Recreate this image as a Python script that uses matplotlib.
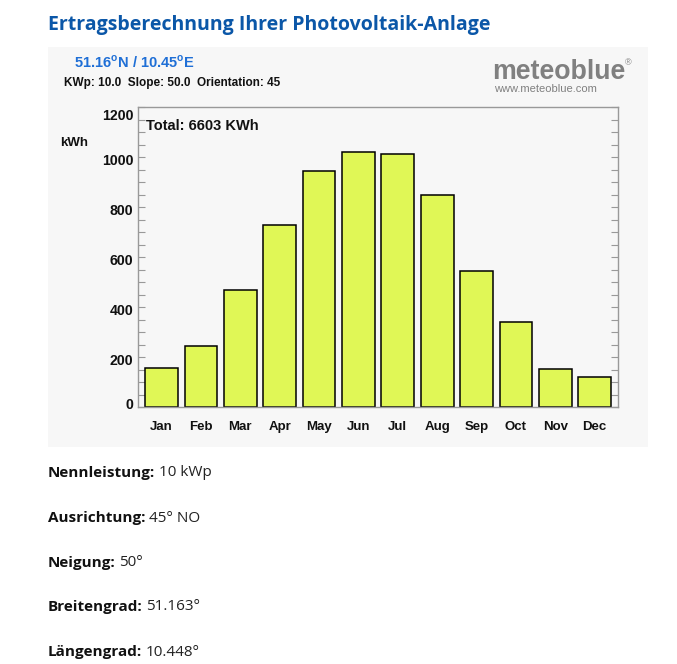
import matplotlib
matplotlib.use("Agg")
import matplotlib.pyplot as plt
from matplotlib.patches import Rectangle
from matplotlib.ticker import MultipleLocator
from matplotlib.transforms import ScaledTranslation

months = ["Jan", "Feb", "Mar", "Apr", "May", "Jun", "Jul", "Aug", "Sep", "Oct", "Nov", "Dec"]
energy_kwh = [156, 244, 468, 728, 945, 1020, 1012, 850, 545, 340, 153, 122]
y_ticks = [0, 200, 400, 600, 800, 1000, 1200]
total_label = "Total: 6603 KWh"
title = "Ertragsberechnung Ihrer Photovoltaik-Anlage"
coords = "51.16$^\\mathregular{o}$N / 10.45$^\\mathregular{o}$E"
params = "KWp: 10.0  Slope: 50.0  Orientation: 45"
info_keys = ["Nennleistung:", "Ausrichtung:", "Neigung:", "Breitengrad:", "Längengrad:"]
info_vals = ["10 kWp", "45° NO", "50°", "51.163°", "10.448°"]

W, H = 677, 664
fig = plt.figure(figsize=(W / 100, H / 100), dpi=100)
fig.patch.set_facecolor("white")

def fx(px):
    return px / W

def fy(py):
    return 1 - py / H

# grey panel
fig.patches.append(Rectangle((fx(48), fy(447)), 600 / W, 400 / H, transform=fig.transFigure,
                             facecolor="#f7f7f7", edgecolor="none", zorder=-5))

ax = fig.add_axes([fx(138.3), fy(407.3), 480 / W, 300 / H])
ax.set_zorder(5)
ax.set_facecolor("#f7f7f7")
x = list(range(len(months)))
ax.bar(x, energy_kwh, width=0.83, color="#e0f756", edgecolor="black", linewidth=1.1, zorder=2)
ax.set_xlim(-0.59, 11.6)
ax.set_ylim(0, 1200)
ax.set_yticks(y_ticks)
ax.yaxis.set_minor_locator(MultipleLocator(50))
ax.set_xticks(x)
ax.set_xticklabels(months)
for s in ax.spines.values():
    s.set_color("#999999")
    s.set_linewidth(1.0)
ax.tick_params(axis="y", which="both", direction="in", left=True, right=True, color="#999999",
               length=5, width=0.8, pad=3.5)
ax.tick_params(axis="x", direction="in", color="#999999", length=5, width=0.8, pad=10)
for lab in ax.get_xticklabels():
    lab.set_fontfamily("Liberation Sans")
    lab.set_fontweight("bold")
    lab.set_fontsize(9.5)
    lab.set_color("#111111")
for lab in ax.get_yticklabels():
    lab.set_fontfamily("Liberation Sans")
    lab.set_fontweight("bold")
    lab.set_fontsize(10.2)
    lab.set_color("#111111")

# ROOT-style label offsets (pixels, downward positive)
for lab, val in zip(ax.get_yticklabels(), y_ticks):
    dy = 2
    if val == y_ticks[-1]:
        dy = 7
    elif val == y_ticks[0]:
        dy = -4
    lab.set_transform(lab.get_transform() + ScaledTranslation(0, -dy / 100, fig.dpi_scale_trans))

ax.text(0.015, 0.962, total_label, transform=ax.transAxes, ha="left", va="top",
        fontfamily="Liberation Sans", fontweight="bold", fontsize=10.5, color="#111111")

fig.text(fx(60), fy(143), "kWh", ha="left", va="center", fontfamily="Liberation Sans",
         fontweight="bold", fontsize=9.5, color="#111111")

# title
fig.text(fx(48), fy(25), title, ha="left", va="center", fontfamily="Open Sans",
         fontweight="bold", fontsize=14, color="#0b57a8")
fig.text(fx(74), fy(62), coords, ha="left", va="center", fontfamily="Liberation Sans",
         fontweight="bold", fontsize=10.5, color="#1f6fd6")
fig.text(fx(64), fy(83), params, ha="left", va="center", fontfamily="Liberation Sans",
         fontweight="bold", fontsize=8.5, color="#111111")

# logo
fig.text(fx(492), fy(72), "meteoblue", ha="left", va="center", fontfamily="Liberation Sans",
         fontweight="bold", fontsize=19.3, color="#808080")
fig.text(fx(625), fy(63), "®", ha="left", va="center", fontfamily="Liberation Sans",
         fontsize=6.5, color="#808080")
fig.text(fx(494), fy(89), "www.meteoblue.com", ha="left", va="center", fontfamily="Liberation Sans",
         fontsize=8, color="#808080")

# info lines
fig.canvas.draw()
renderer = fig.canvas.get_renderer()
ys = [473, 518, 563, 607, 652]
for k, v, yy in zip(info_keys, info_vals, ys):
    t = fig.text(fx(48), fy(yy), k, ha="left", va="center", fontfamily="Open Sans",
                 fontweight="bold", fontsize=11, color="#111111")
    bb = t.get_window_extent(renderer)
    fig.text(fx(bb.x1 + 3.5), fy(yy), v, ha="left", va="center", fontfamily="Open Sans",
             fontsize=11, color="#222222")

fig.savefig("out.png", dpi=100, facecolor="white")
